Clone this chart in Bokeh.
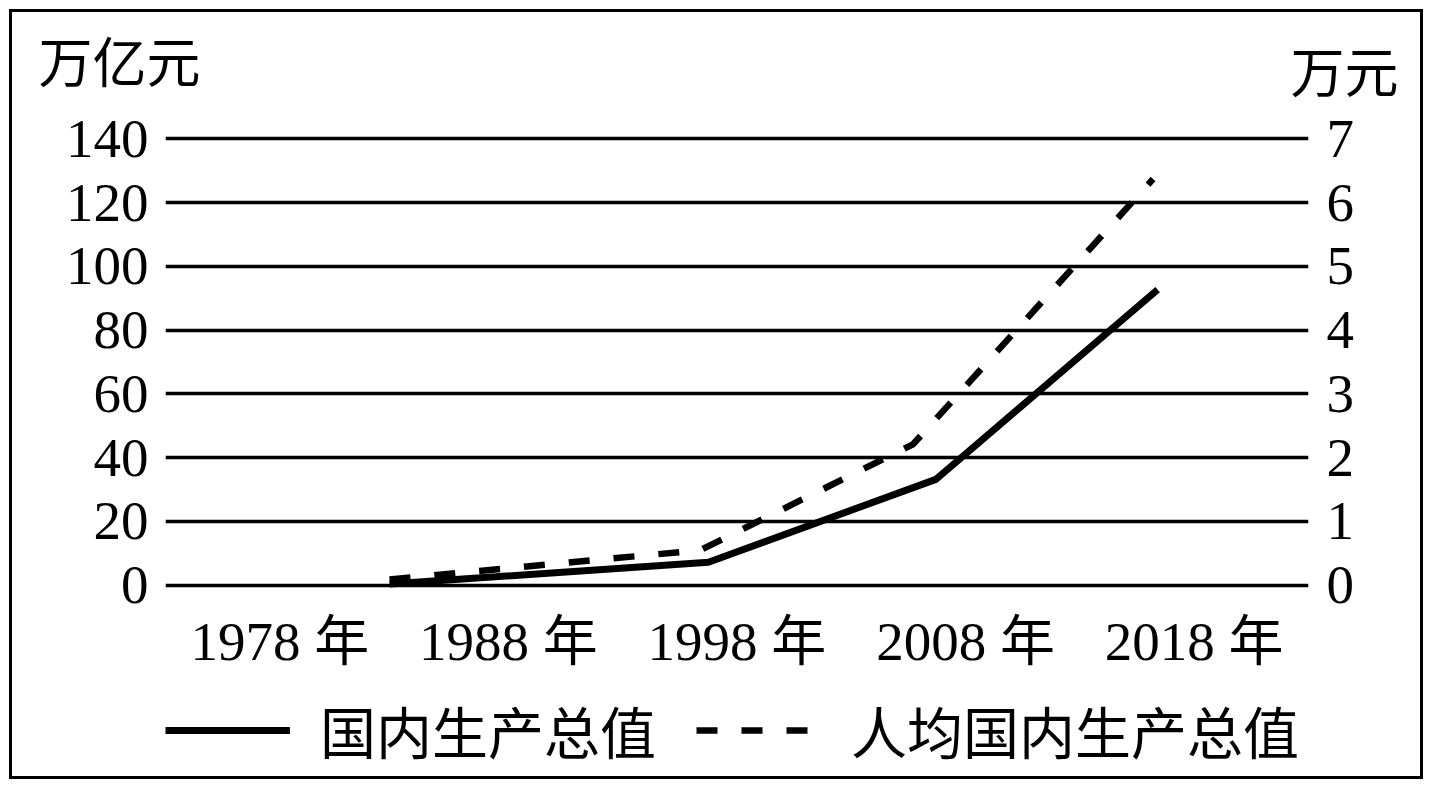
from bokeh.plotting import figure
from bokeh.models import Range1d, LinearAxis, FixedTicker, Legend, LegendItem, Label
from bokeh.embed import file_html
from bokeh.resources import INLINE

# ---- data ----
years = ["1978 年", "1988 年", "1998 年", "2008 年", "2018 年"]
year_pos = [0, 1, 2, 3, 4]
# x positions of the line vertices on the category scale (as drawn in the picture)
gdp_x = [0.48, 1.875, 2.87, 3.84]
gdp = [0.4, 7.2, 33.2, 92.7]          # 万亿元
pc_x = [0.48, 1.84, 2.77, 3.82]
pc = [0.09, 0.55, 2.21, 6.37]         # 万元
left_ticks = [0, 20, 40, 60, 80, 100, 120, 140]
right_ticks = [0, 1, 2, 3, 4, 5, 6, 7]
left_unit = "万亿元"
right_unit = "万元"
name_gdp = "国内生产总值"
name_pc = "人均国内生产总值"

SERIF = "Liberation Serif, Noto Sans CJK SC"
CJK = "Noto Sans CJK SC"

# the frame reaches down to the bottom edge so that the legend sits inside it
p = figure(width=1414, height=770, output_backend="svg", toolbar_location=None,
           x_range=Range1d(-0.5, 4.5), y_range=Range1d(-60, 142),
           min_border_left=153, min_border_right=118,
           min_border_top=119, min_border_bottom=6)
p.styles = {"border": "3px solid black", "margin-left": "9px", "margin-top": "9px"}
p.outline_line_color = None
p.border_fill_alpha = 0

p.extra_y_ranges = {"pc": Range1d(-3.0, 7.1)}
right_axis = LinearAxis(y_range_name="pc", ticker=FixedTicker(ticks=right_ticks))
p.add_layout(right_axis, "right")

p.yaxis[0].ticker = FixedTicker(ticks=left_ticks)
p.xaxis.ticker = FixedTicker(ticks=year_pos)
p.xaxis.major_label_overrides = {i: years[i] for i in year_pos}
p.xaxis.fixed_location = -0.5

for ax in p.axis:
    ax.axis_line_color = None
    ax.major_tick_line_color = None
    ax.minor_tick_line_color = None
    ax.major_label_text_font = SERIF
    ax.major_label_text_font_size = "55px"
    ax.major_label_text_color = "black"
    ax.major_label_standoff = 12
p.xaxis.major_label_standoff = 18
p.yaxis[0].major_label_standoff = 11

p.xgrid.visible = False
p.ygrid.grid_line_color = "black"
p.ygrid.grid_line_width = 3.5

r1 = p.line(gdp_x, gdp, line_color="black", line_width=7)
r2 = p.line(pc_x, pc, y_range_name="pc", line_color="black", line_width=6.5,
            line_dash="21 24")

legend = Legend(items=[LegendItem(label=name_gdp, renderers=[r1]),
                       LegendItem(label=name_pc, renderers=[r2])],
                orientation="horizontal", location=(0, 6),
                glyph_width=125, glyph_height=60, label_height=60,
                label_standoff=30, spacing=40, padding=0, margin=0,
                border_line_color=None, background_fill_alpha=0,
                label_text_font=CJK, label_text_font_size="56px",
                label_text_color="black")
p.add_layout(legend)

# unit captions above the two y axes
p.add_layout(Label(x=-0.5, y=140, x_offset=-127, y_offset=74, text=left_unit,
                   text_font=SERIF, text_font_size="54px",
                   text_baseline="alphabetic", text_align="left",
                   text_color="black"), "above")
p.add_layout(Label(x=4.5, y=140, x_offset=-18, y_offset=64, text=right_unit,
                   text_font=SERIF, text_font_size="54px",
                   text_baseline="alphabetic", text_align="left",
                   text_color="black"), "above")

open("out.html", "w").write(file_html(p, INLINE))
